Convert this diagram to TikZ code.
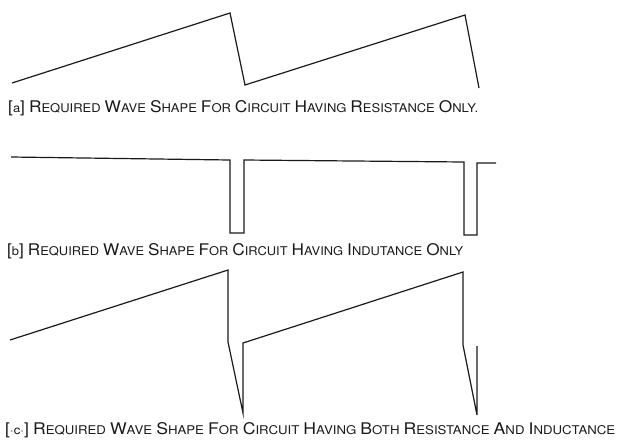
\documentclass[tikz,border=0pt]{standalone}
\usepackage{fontspec}
\setmainfont{TeX Gyre Heros}
\usepackage{graphicx}
\newcommand\capw[1]{\capwx#1\relax}
\def\capwx#1#2\relax{{\fontsize{12}{12}\selectfont #1}{\fontsize{9}{9}\selectfont\uppercase{#2}}}
\newcommand\brk[1]{{\fontsize{12}{12}\selectfont #1}}
\definecolor{ink}{HTML}{1A1A1A}
\tikzset{
  wave/.style={draw=ink, line width=1.2pt, line join=miter},
  caption/.style={anchor=base west, inner sep=0pt, text=ink}
}
\begin{document}
\begin{tikzpicture}[x=1pt,y=-1pt]
\useasboundingbox (0,0) rectangle (618,445);
% wave (a)
\draw[wave] (12,83) -- (230,13) -- (245,85) -- (465,15) -- (479,88);
\node[caption] (capa) at (8,112) {\resizebox{470pt}{12pt}{\brk{[}{\fontsize{9}{9}\selectfont a}\brk{]} \capw{Required} \capw{Wave} \capw{Shape} \capw{For} \capw{Circuit} \capw{Having} \capw{Resistance} \capw{Only.}}};
% wave (b)
\draw[wave] (11,157) -- (230,160) -- (230,233) -- (244,233) -- (244,160) -- (464,162) -- (464,235) -- (477,235) -- (477,163) -- (496,163);
\node[caption] (capb) at (7,255) {\resizebox{456pt}{12pt}{\brk{[}{\fontsize{9}{9}\selectfont b}\brk{]} \capw{Required} \capw{Wave} \capw{Shape} \capw{For} \capw{Circuit} \capw{Having} \capw{Indutance} \capw{Only}}};
% wave (c)
\draw[wave] (10,340) -- (228,270) -- (228,342) -- (243,413) -- (243,343) -- (463,272) -- (463,345) -- (477,415) -- (477,346);
\node[caption] (capc) at (5,434) {\resizebox{610pt}{12pt}{\brk{[}{\fontsize{9}{9}\selectfont ·c·}\brk{]} \capw{Required} \capw{Wave} \capw{Shape} \capw{For} \capw{Circuit} \capw{Having} \capw{Both} \capw{Resistance} \capw{And} \capw{Inductance}}};
\end{tikzpicture}
\end{document}
